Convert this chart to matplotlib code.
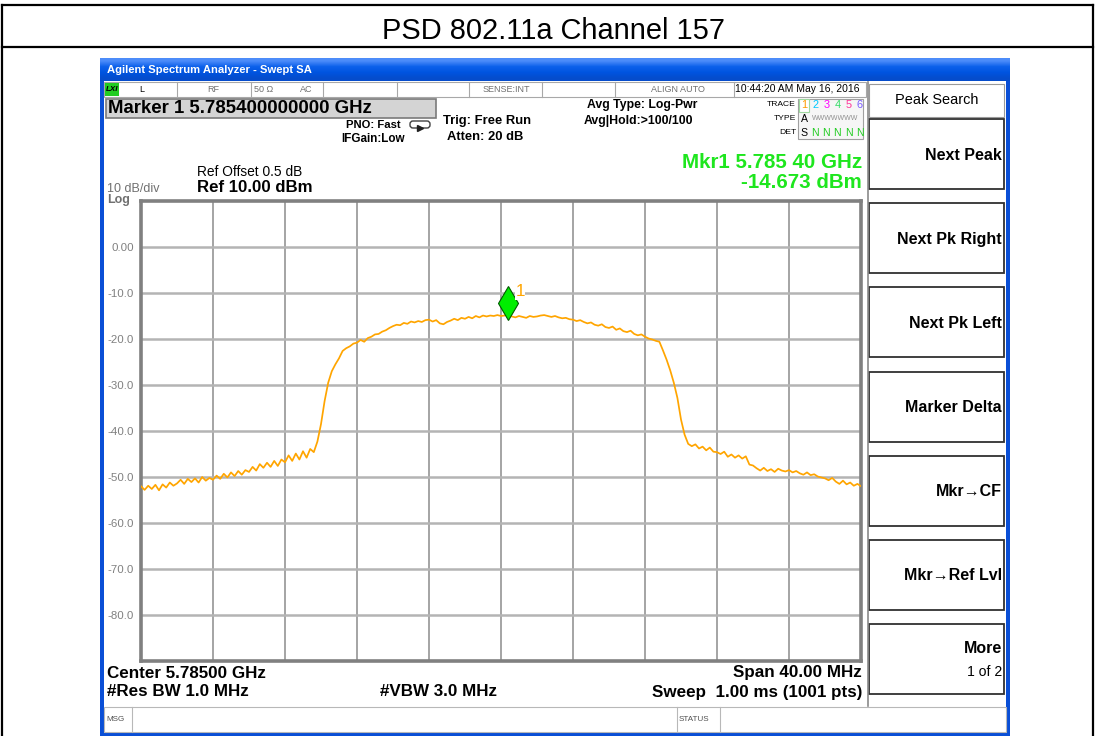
"""Agilent swept-SA screenshot: PSD of 802.11a channel 157 (5.785 GHz)."""
import numpy as np
import matplotlib
matplotlib.use("Agg")
import matplotlib.pyplot as plt
from matplotlib.patches import Rectangle, FancyBboxPatch
from matplotlib.transforms import offset_copy

plt.rcParams["font.family"] = ["Liberation Sans", "DejaVu Sans"]

TITLE = "PSD 802.11a Channel 157"
SPAN_MHZ = 40.0
REF_LEVEL = 10.0
DB_PER_DIV = 10.0
N_DIV = 10

# trace, 0.2 MHz steps, -20 MHz .. +20 MHz around centre
TRACE_DBM = [
    -52.0, -52.8, -51.9, -52.6, -51.7, -52.9, -51.6, -52.3, -51.2, -51.9,
    -51.4, -50.6, -51.5, -50.4, -51.1, -50.3, -51.2, -50.0, -50.8, -50.2,
    -50.6, -49.7, -50.4, -49.3, -50.1, -49.0, -49.8, -48.7, -49.5, -48.5,
    -48.9, -47.8, -48.6, -47.2, -48.0, -46.9, -47.8, -46.5, -47.6, -46.2,
    -46.8, -45.3, -46.5, -44.9, -46.2, -44.4, -45.8, -43.9, -44.6, -42.3,
    -38.5, -33.5, -29.5, -27.0, -25.5, -24.2, -22.6, -22.0, -21.6, -21.0,
    -20.8, -20.2, -20.6, -19.8, -19.5, -19.0, -18.9, -18.4, -18.1, -17.6,
    -17.2, -16.9, -17.0, -16.5, -16.7, -16.2, -16.4, -16.1, -16.3, -15.9,
    -15.8, -16.2, -15.9, -16.6, -16.8, -16.3, -16.0, -15.6, -15.9, -15.4,
    -15.6, -15.2, -15.5, -15.0, -15.3, -14.9, -15.1, -14.9, -15.0, -14.8,
    -15.0, -14.9, -14.7, -15.1, -15.3, -15.0, -15.2, -15.4, -15.0, -15.2,
    -15.1, -14.9, -14.8, -15.0, -15.2, -15.0, -15.3, -15.5, -15.4, -15.7,
    -15.8, -16.1, -15.9, -16.3, -16.6, -16.4, -16.9, -17.1, -16.8, -17.4,
    -17.6, -17.3, -18.0, -17.7, -18.3, -18.5, -18.2, -18.9, -19.2, -19.0,
    -19.5, -19.9, -20.1, -20.4, -20.6, -22.5, -24.5, -26.8, -29.5, -32.8,
    -37.5, -40.8, -42.8, -43.3, -42.9, -43.8, -43.4, -44.2, -43.6, -44.5,
    -44.6, -45.0, -44.5, -45.6, -45.1, -45.8, -45.3, -46.0, -45.5, -47.3,
    -47.5, -48.1, -48.6, -48.0, -48.7, -48.3, -48.9, -48.2, -48.6, -48.8,
    -48.5, -49.0, -48.7, -49.2, -49.5, -49.0, -49.6, -49.4, -49.9, -50.1,
    -50.3, -50.7, -50.2, -51.0, -51.5, -50.8, -51.6, -51.2, -51.9, -51.5,
    -52.0,
]

MKR_OFFSET_MHZ = 0.4
MKR_LEVEL = -14.673

Y_TICKS = [0, -10, -20, -30, -40, -50, -60, -70, -80]
Y_TICK_LABELS = ["0.00", "-10.0", "-20.0", "-30.0", "-40.0",
                 "-50.0", "-60.0", "-70.0", "-80.0"]
X_GRID = [-16, -12, -8, -4, 0, 4, 8, 12, 16]

SOFTKEYS = ["Next Peak", "Next Pk Right", "Next Pk Left", "Marker Delta",
            "Mkr\u2192CF", "Mkr\u2192Ref Lvl", "More"]

W, H = 1096, 736


def px(v):
    # pixel font size -> points at dpi 100
    return v * 0.72


def main():
    fig = plt.figure(figsize=(W / 100, H / 100), dpi=100)
    bg = fig.add_axes([0, 0, 1, 1])
    bg.axis("off")

    # outer document table
    kw = dict(color="black", lw=1.6)
    bg.plot([2, 1093], [5, 5], **kw)
    bg.plot([2, 1093], [47, 47], **kw)
    bg.plot([2, 2], [5, 736], **kw)
    bg.plot([1093, 1093], [5, 736], **kw)
    bg.text(553, 31, TITLE, fontsize=px(29), ha="center", va="center")

    # XP window frame
    bg.add_patch(Rectangle((100, 58), 910, 678, fc="#0a4fd6", ec="none"))
    grad = np.array([[0.30, 0.55, 0.98], [0.05, 0.38, 0.92],
                     [0.00, 0.33, 0.88], [0.02, 0.30, 0.80]])[:, None, :]
    bg.imshow(grad, extent=[100, 1010, 81, 58], aspect="auto",
              interpolation="bilinear", zorder=1)
    bg.add_patch(Rectangle((104, 81), 902, 652, fc="white", ec="none", zorder=1))
    bg.text(107, 70, "Agilent Spectrum Analyzer - Swept SA", color="white",
            fontsize=px(11.3), fontweight="bold", va="center", zorder=2)

    # status row
    bg.add_patch(Rectangle((104, 82), 762, 15, fc="white", ec="#a8a8a8",
                           lw=0.8, zorder=2))
    for xd in [177, 251, 323, 397, 469, 542, 615, 734]:
        bg.plot([xd, xd], [82, 97], color="#a8a8a8", lw=0.8, zorder=3)
    bg.add_patch(Rectangle((105, 83), 14, 13, fc="#22cc22", ec="none", zorder=3))
    bg.text(112, 89.5, "LXI", fontsize=px(8), fontweight="bold", style="italic",
            ha="center", va="center", zorder=4)
    small = dict(fontsize=px(9), color="#707070", va="center", zorder=4)
    bg.text(142, 89.5, "L", ha="center", **dict(small, color="black"))
    bg.text(213, 89.5, "RF", ha="center", **small)
    bg.text(264, 89.5, "50 \u03a9", ha="center", **small)
    bg.text(306, 89.5, "AC", ha="center", **small)
    bg.text(506, 89.5, "SENSE:INT", ha="center", **small)
    bg.text(678, 89.5, "ALIGN AUTO", ha="center", **small)
    bg.text(735, 89.5, "10:44:20 AM May 16, 2016", fontsize=px(10.4),
            va="center", zorder=4)

    # marker readout box
    bg.add_patch(Rectangle((106, 99), 330, 19, fc="#d4d4d4", ec="#7a7a7a",
                           lw=1.2, zorder=2))
    bg.text(108, 108.5, "Marker 1 5.785400000000 GHz", fontsize=px(18.6),
            fontweight="bold", va="center", zorder=3)

    bold = dict(fontweight="bold", va="center", zorder=3)
    bg.text(346, 125, "PNO: Fast", fontsize=px(11.2), **bold)
    bg.text(341, 139, "IFGain:Low", fontsize=px(11.6), **bold)
    bg.add_patch(FancyBboxPatch((410, 121), 20, 7, boxstyle="round,pad=0,rounding_size=3",
                                fc="white", ec="#404040", lw=1, zorder=3))
    bg.plot([420], [128], marker=">", ms=4, color="#202020", zorder=4)
    bg.text(443, 121, "Trig: Free Run", fontsize=px(13), **bold)
    bg.text(447, 137, "Atten: 20 dB", fontsize=px(13), **bold)
    bg.text(587, 105, "Avg Type: Log-Pwr", fontsize=px(12.3), **bold)
    bg.text(584, 121, "Avg|Hold:>100/100", fontsize=px(12.3), **bold)

    # trace legend box
    for lab, yy in [("TRACE", 105), ("TYPE", 119), ("DET", 133)]:
        bg.text(796, yy, lab, fontsize=px(8.5), ha="right", va="center", zorder=3)
    bg.add_patch(Rectangle((798, 99), 65, 40, fc="#f6f6f6", ec="#a0a0a0",
                           lw=0.8, zorder=2))
    bg.add_patch(Rectangle((799, 99), 10, 13, fc="white", ec="#9fd89f",
                           lw=0.8, zorder=3))
    trace_cols = ["#ff9900", "#00c8ff", "#ff00ff", "#33dd66", "#ff3399", "#7a5cff"]
    for i, c in enumerate(trace_cols):
        bg.text(804 + i * 11.2, 105, str(i + 1), color=c, fontsize=px(11),
                ha="center", va="center", zorder=4)
    bg.text(804, 119, "A", fontsize=px(10.5), ha="center", va="center", zorder=4)
    bg.text(812, 118, "WWWWWWW", fontsize=px(7), color="#909090", va="center",
            zorder=4)
    bg.text(804, 133, "S", fontsize=px(10.5), ha="center", va="center", zorder=4)
    for i in range(5):
        bg.text(815 + i * 11.2, 133, "N", color="#22cc22", fontsize=px(10.5),
                ha="center", va="center", zorder=4)

    # marker readout, ref level
    green = "#1ee61e"
    bg.text(862, 162, "Mkr1 5.785 40 GHz", color=green, fontsize=px(20.5),
            ha="right", **bold)
    bg.text(862, 183, "-14.673 dBm", color=green, fontsize=px(20.5),
            ha="right", **bold)
    bg.text(197, 172, "Ref Offset 0.5 dB", fontsize=px(13.8), va="center", zorder=3)
    bg.text(197, 187, "Ref 10.00 dBm", fontsize=px(16.8), **bold)
    bg.text(107, 189, "10 dB/div", fontsize=px(12.5), color="#707070",
            va="center", zorder=3)
    bg.text(107, 200, "Log", fontsize=px(12.5), color="#707070",
            fontweight="bold", va="center", zorder=3)

    # bottom annotations
    bk = dict(fontsize=px(17), **bold)
    bg.text(107, 673, "Center 5.78500 GHz", **bk)
    bg.text(107, 692, "#Res BW 1.0 MHz", **bk)
    bg.text(380, 692, "#VBW 3.0 MHz", **bk)
    bg.text(862, 673, "Span 40.00 MHz", ha="right", **bk)
    bg.text(862, 692, "Sweep  1.00 ms (1001 pts)", ha="right", **bk)

    # msg / status bar
    bg.add_patch(Rectangle((104, 707), 902, 25, fc="white", ec="#b8b8b8",
                           lw=0.8, zorder=2))
    for xd in [132, 677, 720]:
        bg.plot([xd, xd], [707, 732], color="#b8b8b8", lw=0.8, zorder=3)
    bg.text(106, 719.5, "MSG", fontsize=px(8), color="#505050", va="center", zorder=3)
    bg.text(679, 719.5, "STATUS", fontsize=px(8), color="#505050", va="center", zorder=3)

    # softkey panel
    bg.plot([868, 868], [82, 706], color="#8a8a8a", lw=1.2, zorder=3)
    bg.add_patch(Rectangle((869, 84), 135, 33, fc="white", ec="#9a9a9a",
                           lw=0.8, zorder=2))
    bg.text(937, 100, "Peak Search", fontsize=px(14.5), ha="center",
            va="center", zorder=3)
    for i, key in enumerate(SOFTKEYS):
        top = 119 + i * 84.2
        bg.add_patch(Rectangle((869, top), 135, 70, fc="white", ec="#303030",
                               lw=1.3, zorder=2))
        if key == "More":
            bg.text(1002, top + 24, key, fontsize=px(16), ha="right", **bold)
            bg.text(1002, top + 48, "1 of 2", fontsize=px(14), ha="right",
                    va="center", zorder=3)
        else:
            bg.text(1002, top + 36, key, fontsize=px(16), ha="right", **bold)

    bg.set_xlim(0, W)
    bg.set_ylim(H, 0)

    # spectrum graticule
    ax = fig.add_axes([141 / W, 1 - 661 / H, 720 / W, 460 / H])
    freq = np.linspace(-SPAN_MHZ / 2, SPAN_MHZ / 2, len(TRACE_DBM))
    ax.plot(freq, TRACE_DBM, color="#ffa500", lw=1.25, zorder=3)
    ax.set_xlim(-SPAN_MHZ / 2, SPAN_MHZ / 2)
    ax.set_ylim(REF_LEVEL - N_DIV * DB_PER_DIV, REF_LEVEL)
    ax.set_xticks(X_GRID)
    ax.set_xticklabels([])
    ax.set_yticks(Y_TICKS)
    ax.set_yticklabels(Y_TICK_LABELS, color="#808080", fontsize=px(11.5))
    ax.tick_params(length=0, pad=5)
    ax.xaxis.grid(True, color="#8c8c8c", lw=1.1)
    ax.yaxis.grid(True, color="#b4b4b4", lw=1.8)
    ax.set_axisbelow(True)
    for sp in ax.spines.values():
        sp.set_color("#808080")
        sp.set_linewidth(2.6)

    lift = offset_copy(ax.transData, fig=fig, y=8.6, units="points")
    ax.plot([MKR_OFFSET_MHZ], [MKR_LEVEL], marker="d", ms=17, color="#00ee00",
            mec="#005a00", mew=0.8, transform=lift, zorder=5, clip_on=False)
    ax.annotate("1", (MKR_OFFSET_MHZ, MKR_LEVEL), xytext=(8.5, 16.5),
                textcoords="offset points", color="#ffa500", fontsize=px(17),
                va="center", ha="center", zorder=6,
                bbox=dict(fc="white", ec="none", pad=0.5))

    fig.savefig("out.png", dpi=100)


if __name__ == "__main__":
    main()
